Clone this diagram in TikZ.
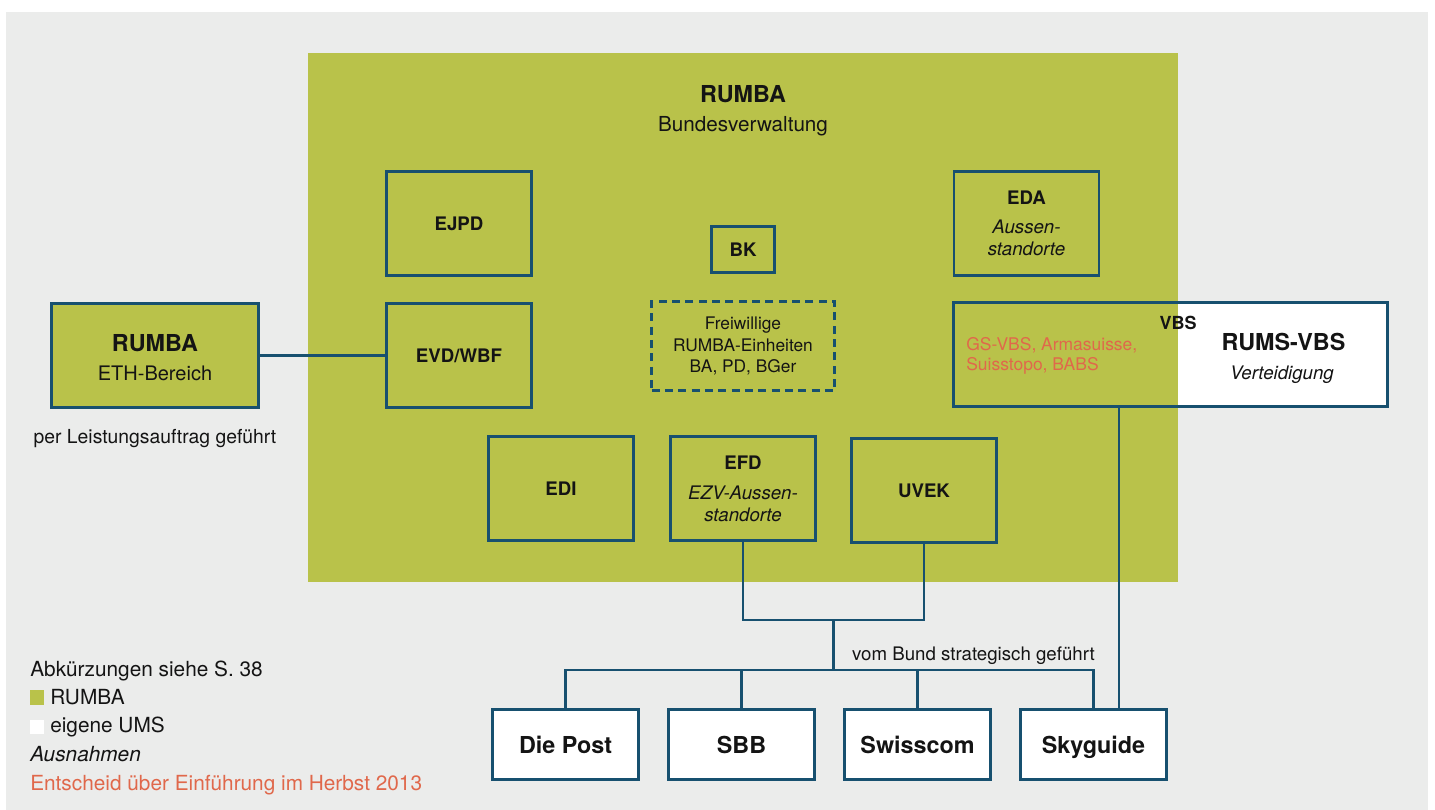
\documentclass[tikz,border=0pt]{standalone}
\usepackage{fontspec}
\setmainfont{TeX Gyre Heros}
\usetikzlibrary{positioning, calc}

\definecolor{rumbagreen}{HTML}{B9C24A}
\definecolor{panelgrey}{HTML}{EBECEB}
\definecolor{unitblue}{HTML}{17506F}
\definecolor{noteorange}{HTML}{E0684B}
\definecolor{inkblack}{HTML}{141414}

\tikzset{
  unit/.style={draw=unitblue, line width=2.2pt, minimum width=108.75pt, minimum height=78pt,
    inner sep=0pt, text depth=0pt, text=inkblack, font=\fontsize{14}{16.5}\selectfont\bfseries},
  multiunit/.style={unit, align=center, font=\fontsize{14}{16.5}\selectfont},
  optional/.style={draw=unitblue, line width=2.2pt, dash pattern=on 6pt off 4pt,
    minimum width=137.25pt, minimum height=66.75pt, inner sep=0pt, align=center,
    text=inkblack, font=\fontsize{13}{16}\selectfont},
  company/.style={draw=unitblue, line width=2.2pt, fill=white, minimum width=109.5pt,
    minimum height=52.5pt, inner sep=0pt, text depth=0pt, text=inkblack,
    font=\fontsize{17.5}{21}\selectfont\bfseries},
  link/.style={draw=unitblue, line width=1.9pt},
  plain/.style={inner sep=0pt, text=inkblack, font=\fontsize{15}{18}\selectfont},
  legend/.style={plain, anchor=base west, font=\fontsize{15.6}{18}\selectfont},
  heading/.style={inner sep=0pt, text=inkblack, font=\fontsize{17.5}{21}\selectfont\bfseries},
  note/.style={inner sep=0pt, text=noteorange, font=\fontsize{13.1}{15}\selectfont}
}

\begin{document}
\begin{tikzpicture}[x=0.75pt, y=-0.75pt]

  % Canvas and panels
  \useasboundingbox (0,0) rectangle (1435,810);
  \fill[panelgrey] (6,12) rectangle (1428,810);
  \fill[rumbagreen] (308,53) rectangle (1178,582); % RUMBA Bundesverwaltung
  \fill[white] (1178,301) rectangle (1389,408); % own UMS part of VBS

  % Title
  \node[heading, anchor=base] (title) at (743,102) {RUMBA};
  \node[plain, font=\fontsize{15.5}{18}\selectfont, anchor=base] (subtitle) at (743,131) {Bundesverwaltung};

  % Departments
  \node[unit] (ejpd) at (459,223.5) {EJPD};
  \node[unit] (evd) at (459,355.5) {EVD/WBF};
  \node[unit, minimum width=47.25pt, minimum height=34.5pt] (bk) at (743,249.5) {BK};
  \node[multiunit] (eda) at (1026.5,223.5) {\textbf{EDA}\\[5pt]\textit{Aussen-}\\\textit{standorte}};
  \node[optional] (voluntary) at (743,346) {Freiwillige\\RUMBA-Einheiten\\BA, PD, BGer};
  \node[unit] (edi) at (561,488.5) {EDI};
  \node[multiunit] (efd) at (743,488.5) {\textbf{EFD}\\[6pt]\textit{EZV-Aussen-}\\\textit{standorte}};
  \node[unit] (uvek) at (924,490.5) {UVEK};

  % VBS
  \node[unit, minimum width=325.5pt] (vbs) at (1170.5,354.5) {};
  \node[heading, font=\fontsize{13.5}{16}\selectfont\bfseries, anchor=base] (vbslabel) at (1178,329.5) {VBS};
  \node[note, anchor=base west] (vbsnote) at (966,350) {GS-VBS, Armasuisse,};
  \node[note, anchor=base west] (vbsnotetwo) at (966,370) {Suisstopo, BABS};
  \node[heading, anchor=base] (rums) at (1283.5,350) {RUMS-VBS};
  \node[plain, font=\fontsize{14}{17}\selectfont\itshape, anchor=base] (defence) at (1282,379.5) {Verteidigung};

  % ETH
  \node[unit, fill=rumbagreen, minimum width=155.25pt] (eth) at (155,355.5) {};
  \node[heading, anchor=base] (ethname) at (155,351.7) {RUMBA};
  \node[plain, anchor=base] (ethsub) at (155,380) {ETH-Bereich};
  \node[plain, font=\fontsize{14.5}{17}\selectfont, anchor=base] (ethnote) at (155,443) {per Leistungsauftrag geführt};

  % Companies
  \node[company] (post) at (565.5,744.5) {Die Post};
  \node[company] (sbb) at (741.5,744.5) {SBB};
  \node[company] (swisscom) at (917.5,744.5) {Swisscom};
  \node[company] (skyguide) at (1093.5,744.5) {Skyguide};
  \node[plain, font=\fontsize{14}{17}\selectfont, anchor=base east] (strategic) at (1095,660) {vom Bund strategisch geführt};

  % Connectors
  \coordinate (join) at (833.5,620);
  \coordinate (split) at (833.5,670);
  \coordinate (skytap) at (1119,408);
  \draw[link] (evd.west) -- (eth.east);
  \draw[link] (efd.south) |- (join) -| (uvek.south);
  \draw[link] (join) -- (split);
  \foreach \firm in {post,sbb,swisscom,skyguide}
    \draw[link] (split) -| (\firm.north);
  \draw[link] (skytap) -- (skytap |- skyguide.north);

  % Legend
  \node[legend] (abbr) at (30,676) {Abkürzungen siehe S. 38};
  \fill[rumbagreen] (30,690) rectangle (44,705);
  \node[legend] (keyrumba) at (50,704.3) {RUMBA};
  \fill[white] (30,720) rectangle (44,734);
  \node[legend] (keyown) at (50,732.3) {eigene UMS};
  \node[legend, font=\fontsize{15.6}{18}\selectfont\itshape] (keyexcept) at (30,761.7) {Ausnahmen};
  \node[legend, text=noteorange] (keydecision) at (30,790) {Entscheid über Einführung im Herbst 2013};

\end{tikzpicture}
\end{document}
